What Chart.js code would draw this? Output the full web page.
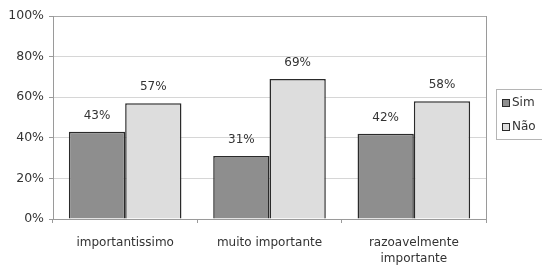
<!DOCTYPE html>
<html>
<head>
<meta charset="utf-8">
<script src="https://cdn.jsdelivr.net/npm/chart.js@4"></script>
<style>
  html, body { margin: 0; padding: 0; background: #fff; }
  #wrap { width: 542px; height: 267px; }
</style>
</head>
<body>
<div id="wrap"><canvas id="chart" width="542" height="267"></canvas></div>
<script>
var categories = ['importantissimo', 'muito importante', ['razoavelmente', 'importante']];
var simValues = [43, 31, 42];
var naoValues = [57, 69, 58];
var yTicks = [0, 20, 40, 60, 80, 100];

var FONT = 'DejaVu Sans';
var TEXT = '#333333';

// value labels above each bar
var valueLabels = {
  id: 'valueLabels',
  afterDatasetsDraw: function(chart) {
    var ctx = chart.ctx;
    ctx.save();
    ctx.font = '12px "' + FONT + '"';
    ctx.fillStyle = TEXT;
    ctx.textAlign = 'center';
    ctx.textBaseline = 'middle';
    chart.data.datasets.forEach(function(ds, i) {
      chart.getDatasetMeta(i).data.forEach(function(bar, j) {
        ctx.fillText(ds.data[j] + '%', bar.x, bar.y - 16);
      });
    });
    ctx.restore();
  }
};

// right border of plot area + boxed legend
var frameAndLegend = {
  id: 'frameAndLegend',
  afterDraw: function(chart) {
    var ctx = chart.ctx, a = chart.chartArea;
    ctx.save();
    ctx.strokeStyle = '#9a9a9a';
    ctx.lineWidth = 1;
    ctx.beginPath();
    ctx.moveTo(a.right + 0.5, a.top);
    ctx.lineTo(a.right + 0.5, a.bottom + 4);
    ctx.stroke();

    var lx = 496, ly = 89, lw = 52, lh = 50;
    ctx.strokeStyle = '#b5b5b5';
    ctx.strokeRect(lx + 0.5, ly + 0.5, lw, lh);
    ctx.font = '12px "' + FONT + '"';
    ctx.textBaseline = 'middle';
    ctx.textAlign = 'left';
    chart.data.datasets.forEach(function(ds, i) {
      var cy = 103 + i * 24;
      ctx.fillStyle = ds.backgroundColor;
      ctx.fillRect(502, cy - 4, 8, 8);
      ctx.strokeStyle = '#2a2a2a';
      ctx.strokeRect(502.5, cy - 3.5, 7, 7);
      ctx.fillStyle = TEXT;
      ctx.fillText(ds.label, 512, cy);
    });
    ctx.restore();
  }
};

new Chart(document.getElementById('chart'), {
  type: 'bar',
  data: {
    labels: categories,
    datasets: [
      {
        label: 'Sim',
        data: simValues,
        backgroundColor: '#8e8e8e',
        borderColor: '#2a2a2a',
        borderWidth: 1.5,
        categoryPercentage: 0.78,
        barPercentage: 1
      },
      {
        label: 'Não',
        data: naoValues,
        backgroundColor: '#dddddd',
        borderColor: '#2a2a2a',
        borderWidth: 1.5,
        categoryPercentage: 0.78,
        barPercentage: 1
      }
    ]
  },
  options: {
    responsive: false,
    animation: false,
    layout: { padding: { left: 0, top: 16, right: 56, bottom: 0 } },
    plugins: {
      legend: { display: false },
      tooltip: { enabled: false }
    },
    scales: {
      x: {
        grid: { offset: true, drawOnChartArea: false, drawTicks: true, tickLength: 4, color: '#9a9a9a' },
        border: { color: '#9a9a9a' },
        ticks: {
          color: TEXT,
          padding: 12,
          maxRotation: 0,
          font: { family: FONT, size: 12, lineHeight: 1.35 }
        },
        afterFit: function(scale) { scale.height = 48; }
      },
      y: {
        min: 0,
        max: 100,
        afterBuildTicks: function(scale) {
          scale.ticks = yTicks.map(function(v) { return { value: v }; });
        },
        grid: {
          color: function(c) { return c.tick && c.tick.value === 100 ? '#a8a8a8' : '#d6d6d6'; },
          tickColor: '#9a9a9a',
          tickLength: 4
        },
        border: { color: '#9a9a9a' },
        ticks: {
          color: TEXT,
          padding: 5,
          font: { family: FONT, size: 12.5 },
          callback: function(v) { return v + '%'; }
        },
        afterFit: function(scale) { scale.width = 53; }
      }
    }
  },
  plugins: [valueLabels, frameAndLegend]
});
</script>
</body>
</html>
